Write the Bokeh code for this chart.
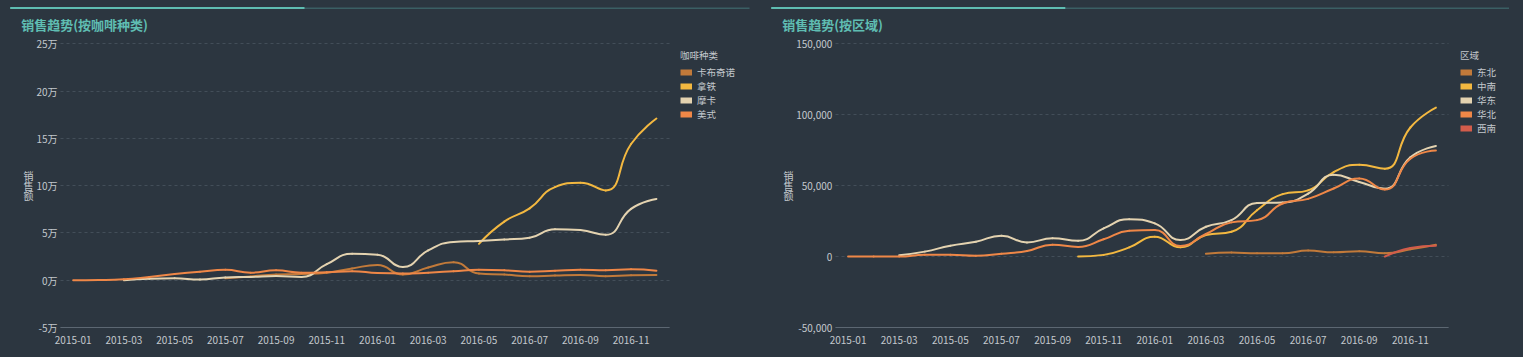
import math
import numpy as np
from bokeh.plotting import figure
from bokeh.models import (FixedTicker, Label, BoxAnnotation, Legend, LegendItem, Range1d)
from bokeh.layouts import row
from bokeh.embed import file_html
from bokeh.resources import INLINE

NaN = float("nan")

# ---------------- data ----------------
months = ["2015-01", "2015-02", "2015-03", "2015-04", "2015-05", "2015-06",
          "2015-07", "2015-08", "2015-09", "2015-10", "2015-11", "2015-12",
          "2016-01", "2016-02", "2016-03", "2016-04", "2016-05", "2016-06",
          "2016-07", "2016-08", "2016-09", "2016-10", "2016-11", "2016-12"]
month_tick_idx = list(range(0, 24, 2))

coffee_names = ["卡布奇诺", "拿铁", "摩卡", "美式"]
cappuccino = [NaN, NaN, NaN, NaN, NaN, NaN,
              2000, 4000, 6000, 6500, 8000, 12500,
              16000, 6000, 13500, 19000, 7000, 6000,
              4200, 5000, 5600, 4200, 5300, 5600]
latte = [NaN] * 16 + [38500, 62000, 76000, 98500, 103000, 95000, 144000, 171000]
mocha = [NaN, NaN, 0, 1500, 2000, 800,
         3000, 3500, 4500, 3500, 17000, 28000,
         27000, 14000, 31500, 40500, 41500, 43000,
         45000, 54000, 53000, 48000, 75500, 86000]
americano = [0, 200, 1000, 3500, 6500, 9000,
             11000, 8000, 10500, 8000, 8500, 9500,
             7500, 7000, 8000, 9500, 11000, 10500,
             9000, 10000, 11000, 10500, 11500, 10000]

region_names = ["东北", "中南", "华东", "华北", "西南"]
northeast = [NaN] * 14 + [2000, 2800, 2300, 2300, 4200, 3000, 3700, 2300, 5100, 8400]
central_south = [NaN] * 9 + [0, 1200, 6500, 14000, 6500, 15200, 17500, 32700,
                             44000, 46700, 59600, 64700, 62000, 91000, 105000]
east = [NaN, NaN, 1000, 3500, 7700, 10500,
        14700, 10000, 12900, 11200, 19900, 26400,
        23400, 11700, 21000, 25700, 37800, 38100,
        44400, 57700, 52600, 47900, 70000, 78000]
north = [0, 0, 0, 1200, 1200, 500,
         2000, 4000, 8400, 6800, 12200, 18200,
         18700, 7500, 15900, 24100, 25700, 37400,
         40700, 48000, 55000, 47200, 69000, 74800]
southwest = [NaN] * 21 + [0, 6000, 7700]

left_y_ticks = [-50000, 0, 50000, 100000, 150000, 200000, 250000]
left_y_labels = ["-5万", "0万", "5万", "10万", "15万", "20万", "25万"]
right_y_ticks = [-50000, 0, 50000, 100000, 150000]
right_y_labels = ["-50,000", "0", "50,000", "100,000", "150,000"]

# ---------------- style / layout ----------------
BG = "#2c3640"
FONT = "Noto Sans CJK SC"
TXT = "#c3c8cd"
TEAL = "#5fbdb2"
TEAL_DIM = "#3b5f64"
C_BROWN = "#c27a3a"
C_YELLOW = "#f3b840"
C_BEIGE = "#e4d3b0"
C_ORANGE = "#ef8747"
C_RED = "#d25c4b"
H = 357
PLOT_TOP, PLOT_BOTTOM = 43.3, 327.0
SMOOTH = 0.5


def _clamp(v, a, b):
    return min(max(v, min(a, b)), max(a, b))


def smooth_segments(xs, ys, sx, sy):
    """Cubic bezier pieces between consecutive data points (ECharts-like smoothing)."""
    out = {k: [] for k in ("x0", "y0", "x1", "y1", "cx0", "cy0", "cx1", "cy1")}
    runs, cur = [], []
    for x, y in zip(xs, ys):
        if math.isnan(y):
            if cur:
                runs.append(cur)
            cur = []
        else:
            cur.append((x * sx, y * sy))
    if cur:
        runs.append(cur)
    for P in runs:
        n = len(P)
        if n < 2:
            continue
        cin = [None] * n
        cout = [None] * n
        cout[0] = P[0]
        cin[-1] = P[-1]
        for k in range(1, n - 1):
            (px, py), (x, y), (nx, ny) = P[k - 1], P[k], P[k + 1]
            vx, vy = nx - px, ny - py
            lp = math.hypot(x - px, y - py)
            ln = math.hypot(nx - x, ny - y)
            r = ln / (ln + lp)
            c0x = _clamp(x + vx * SMOOTH * r, nx, x)
            c0y = _clamp(y + vy * SMOOTH * r, ny, y)
            vx, vy = c0x - x, c0y - y
            c1x = _clamp(x - vx * lp / ln, px, x)
            c1y = _clamp(y - vy * lp / ln, py, y)
            vx, vy = x - c1x, y - c1y
            c0x, c0y = x + vx * ln / lp, y + vy * ln / lp
            cin[k] = (c1x, c1y)
            cout[k] = (c0x, c0y)
        for k in range(n - 1):
            out["x0"].append(P[k][0] / sx)
            out["y0"].append(P[k][1] / sy)
            out["x1"].append(P[k + 1][0] / sx)
            out["y1"].append(P[k + 1][1] / sy)
            out["cx0"].append(cout[k][0] / sx)
            out["cy0"].append(cout[k][1] / sy)
            out["cx1"].append(cin[k + 1][0] / sx)
            out["cy1"].append(cin[k + 1][1] / sy)
    return out


def make_panel(width, axis_left, axis_len, title, leg_title, names, series, colors,
               yticks, ylabels, yr, header, leg_x):
    n_cat = len(months)
    ppm = axis_len / n_cat
    x_lo = -0.5 - axis_left / ppm
    x_hi = -0.5 + (width - axis_left) / ppm
    vpp = (yr[1] - yr[0]) / (PLOT_BOTTOM - PLOT_TOP)
    y_lo = yr[0] - (H - PLOT_BOTTOM) * vpp
    y_hi = yr[1] + PLOT_TOP * vpp

    p = figure(width=width, height=H, x_range=Range1d(x_lo, x_hi), y_range=Range1d(y_lo, y_hi),
               output_backend="svg", toolbar_location=None, title=None,
               min_border=0, min_border_left=0, min_border_right=0,
               min_border_top=0, min_border_bottom=0,
               background_fill_color=BG, border_fill_color=BG, outline_line_color=None)
    p.styles = {"background-color": BG}

    # grid
    p.xgrid.visible = False
    p.ygrid.grid_line_color = "#434e59"
    p.ygrid.grid_line_dash = "3 3"
    p.ygrid.grid_line_width = 1
    p.ygrid.bounds = (yr[0], yr[1])
    p.ygrid.cross_bounds = (-0.5, n_cat - 0.5)

    # y axis
    p.yaxis.fixed_location = -0.5
    p.yaxis.bounds = (yr[0], yr[1])
    p.yaxis.ticker = FixedTicker(ticks=yticks)
    p.yaxis.major_label_overrides = dict(zip(yticks, ylabels))
    p.yaxis.axis_line_color = None
    p.yaxis.major_tick_line_color = None
    p.yaxis.minor_tick_line_color = None
    p.yaxis.major_tick_out = 0
    p.yaxis.major_tick_in = 0
    p.yaxis.major_label_standoff = 3
    p.yaxis.major_label_text_font = FONT
    p.yaxis.major_label_text_font_size = "10px"
    p.yaxis.major_label_text_color = TXT
    p.yaxis.axis_label = "销\n售\n额"
    p.yaxis.axis_label_text_font = FONT
    p.yaxis.axis_label_text_font_size = "10px"
    p.yaxis.axis_label_text_font_style = "normal"
    p.yaxis.axis_label_text_color = TXT
    p.yaxis.axis_label_text_line_height = 0.69
    p.yaxis.axis_label_standoff = 0
    p.yaxis.axis_label_orientation = "horizontal"

    # x axis
    p.xaxis.fixed_location = yr[0]
    p.xaxis.bounds = (-0.5, n_cat - 0.5)
    p.xaxis.ticker = FixedTicker(ticks=month_tick_idx)
    p.xaxis.major_label_overrides = {i: months[i] for i in month_tick_idx}
    p.xaxis.axis_line_color = "#5c6772"
    p.xaxis.major_tick_line_color = None
    p.xaxis.minor_tick_line_color = None
    p.xaxis.major_tick_out = 0
    p.xaxis.major_tick_in = 0
    p.xaxis.major_label_standoff = 8
    p.xaxis.major_label_text_font = FONT
    p.xaxis.major_label_text_font_size = "10px"
    p.xaxis.major_label_text_color = TXT

    # series: smooth curves through the data points
    xs = np.arange(n_cat, dtype=float)
    items = []
    for n, s, c in zip(names, series, colors):
        ys = np.array(s, dtype=float)
        seg = smooth_segments(xs, ys, ppm, 1.0 / vpp)
        p.bezier(line_color=c, line_width=2, line_cap="round", **seg)
        sw = p.line(x=xs, y=ys, line_color=c, line_width=6, visible=False)
        items.append(LegendItem(label=n, renderers=[sw]))

    title_h, title_gap, row_h = 13.8, 3, 14
    leg_top = 55 - title_h / 2
    leg_h = title_h + title_gap + row_h * len(names)
    legend = Legend(items=items, title=leg_title,
                    location=(leg_x, H - leg_top - leg_h),
                    padding=0, margin=0, spacing=0, glyph_width=12, glyph_height=row_h,
                    label_height=row_h, label_standoff=5, title_standoff=title_gap,
                    label_text_font=FONT, label_text_font_size="9.5px", label_text_color=TXT,
                    title_text_font=FONT, title_text_font_size="9.5px",
                    title_text_font_style="normal", title_text_color=TXT,
                    border_line_color=None, background_fill_alpha=0)
    p.add_layout(legend)

    # header line + title
    hx0, hx1, hxb = header
    p.add_layout(BoxAnnotation(left=hx0, right=hx1, top=H - 7, bottom=H - 8.5,
                               left_units="screen", right_units="screen",
                               top_units="screen", bottom_units="screen",
                               fill_color=TEAL_DIM, fill_alpha=1, line_color=None))
    p.add_layout(BoxAnnotation(left=hx0, right=hxb, top=H - 6.5, bottom=H - 8.5,
                               left_units="screen", right_units="screen",
                               top_units="screen", bottom_units="screen",
                               fill_color=TEAL, fill_alpha=1, line_color=None))
    p.add_layout(Label(x=hx0 + 11, y=H - 24, x_units="screen", y_units="screen",
                       text=title, text_font=FONT, text_font_size="13px",
                       text_font_style="bold", text_color=TEAL,
                       text_align="left", text_baseline="middle"))
    return p


left = make_panel(760, 60.0, 608.6, "销售趋势(按咖啡种类)", "咖啡种类", coffee_names,
                  [cappuccino, latte, mocha, americano],
                  [C_BROWN, C_YELLOW, C_BEIGE, C_ORANGE],
                  left_y_ticks, left_y_labels, (-50000, 250000),
                  (9.7, 749.0, 304.0), 680)
right = make_panel(763, 74.8, 613.4, "销售趋势(按区域)", "区域", region_names,
                   [northeast, central_south, east, north, southwest],
                   [C_BROWN, C_YELLOW, C_BEIGE, C_ORANGE, C_RED],
                   right_y_ticks, right_y_labels, (-50000, 150000),
                   (10.7, 748.5, 304.8), 700)

layout = row(left, right, spacing=0)
layout.styles = {"background-color": BG}
html = file_html(layout, INLINE)
html = html.replace("</head>", "<style>html,body{margin:0;padding:0;background:%s;}</style></head>" % BG, 1)
open("out.html", "w").write(html)
